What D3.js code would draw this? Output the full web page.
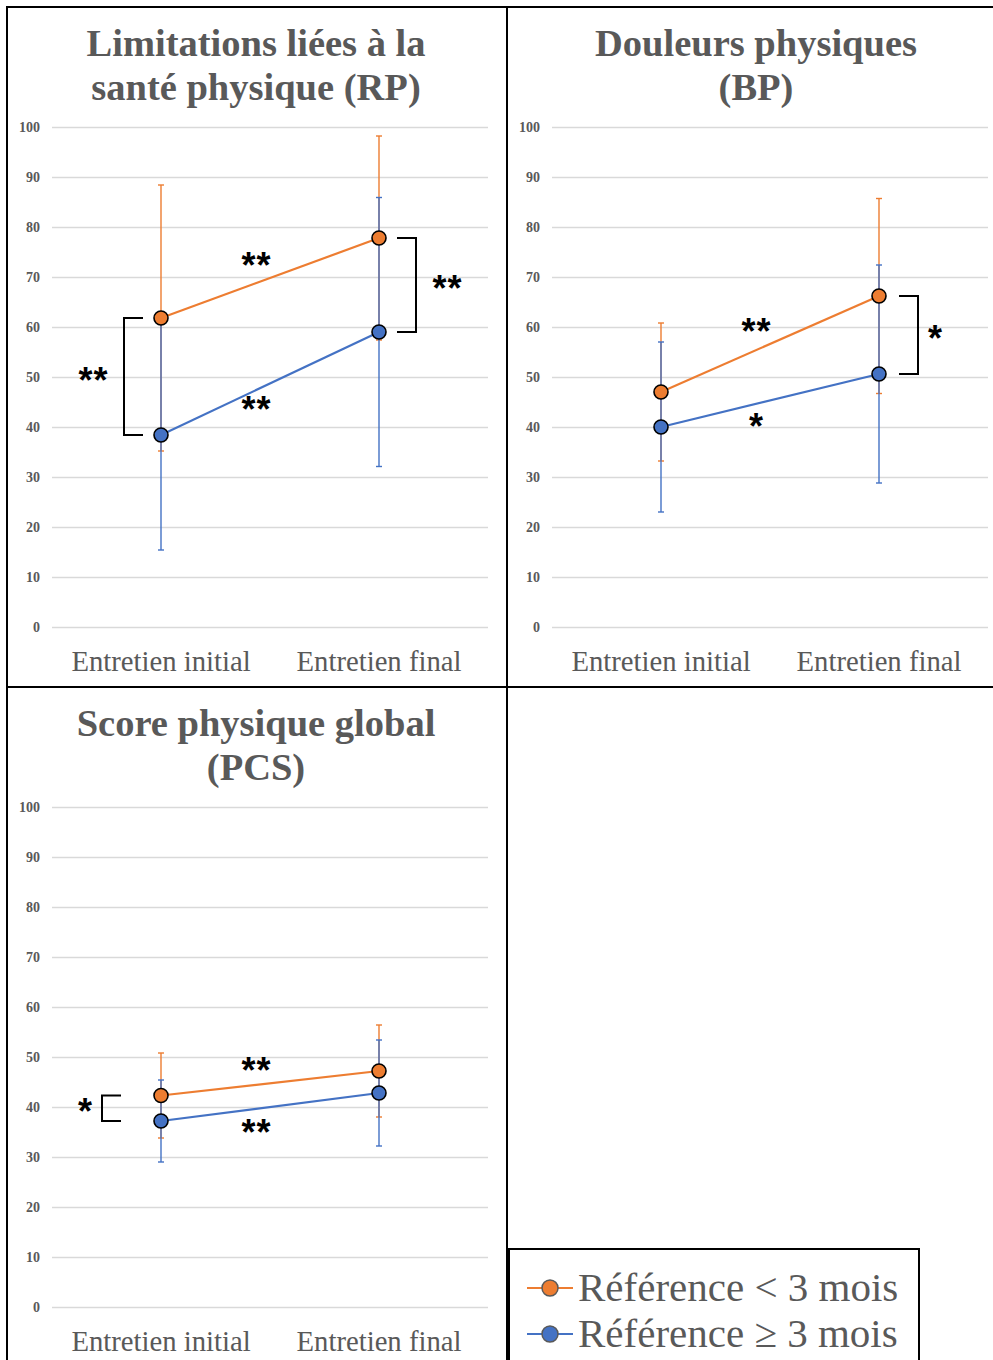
<!DOCTYPE html>
<html>
<head>
<meta charset="utf-8">
<script src="https://cdn.jsdelivr.net/npm/d3@7"></script>
<style>
  body { margin: 0; background: #fff; }
  svg { display: block; }
  .grid line { stroke: #d9d9d9; stroke-width: 1.5; }
  .grid text { font-family: "Liberation Serif", serif; font-weight: bold; font-size: 14px; fill: #595959; }
  .cats text { font-family: "Liberation Serif", serif; font-size: 28.7px; fill: #595959; }
  .title { font-family: "Liberation Serif", serif; font-weight: bold; font-size: 38.5px; fill: #595959; }
  .star { font-family: "Liberation Sans", Arial, sans-serif; font-weight: bold; font-size: 36px; fill: #000; }
  .legendtext { font-family: "Liberation Serif", serif; font-size: 41px; fill: #595959; }
</style>
</head>
<body>
<div id="chart"></div>
<script>
var categories = ["Entretien initial", "Entretien final"]
var yTicks = [0, 10, 20, 30, 40, 50, 60, 70, 80, 90, 100]
var seriesNames = ["Référence < 3 mois", "Référence \u2265 3 mois"]
var seriesColors = ["#ed7d31", "#4472c4"]

// means and standard deviations (initial, final)
var rpShort = [61.8, 77.8], rpShortSd = [26.6, 20.4]
var rpLong  = [38.4, 59.0], rpLongSd  = [23.0, 26.9]
var bpShort = [47.0, 66.2], bpShortSd = [13.8, 19.5]
var bpLong  = [40.0, 50.6], bpLongSd  = [17.0, 21.8]
var pcsShort = [42.3, 47.2], pcsShortSd = [8.5, 9.2]
var pcsLong  = [37.2, 42.8], pcsLongSd  = [8.2, 10.6]

var panels = [
  { title: ["Limitations liées à la", "santé physique (RP)"], x: 7, y: 7, w: 500, h: 680,
    series: [{ v: rpShort, sd: rpShortSd }, { v: rpLong, sd: rpLongSd }],
    change: ["**", "**"],
    brackets: [{ cat: 0, side: -1, off: 37, text: "**" }, { cat: 1, side: 1, off: 37, text: "**" }] },
  { title: ["Douleurs physiques", "(BP)"], x: 507, y: 7, w: 488, h: 680,
    series: [{ v: bpShort, sd: bpShortSd }, { v: bpLong, sd: bpLongSd }],
    change: ["**", "*"],
    brackets: [{ cat: 1, side: 1, off: 39, text: "*" }] },
  { title: ["Score physique global", "(PCS)"], x: 7, y: 687, w: 500, h: 680,
    series: [{ v: pcsShort, sd: pcsShortSd }, { v: pcsLong, sd: pcsLongSd }],
    change: ["**", "**"],
    brackets: [{ cat: 0, side: -1, off: 59, text: "*" }] }
]

var W = 993, H = 1360
var svg = d3.select("#chart").append("svg").attr("width", W).attr("height", H)

function star(g, x, y, text) {
  // asterisks sit high in the em box, shift baseline down
  var t = g.append("text").attr("class", "star")
    .attr("x", x).attr("y", y + 19)
    .attr("text-anchor", "middle")
  text.split("").forEach((c, i, a) =>
    t.append("tspan").attr("x", x + (i - (a.length - 1) / 2) * 15).text(c))
}

function drawPanel(p) { //{{{
  var margin = { left: 45, top: 120 },
      width = 436, height = 500

  svg.append("rect")
    .attr("x", p.x).attr("y", p.y).attr("width", p.w).attr("height", p.h)
    .attr("fill", "none").attr("stroke", "#000").attr("stroke-width", 2)

  var t = svg.append("text").attr("class", "title")
    .attr("x", p.x + 249).attr("y", p.y + 49).attr("text-anchor", "middle")
  p.title.forEach((l, i) => t.append("tspan").attr("x", p.x + 249).attr("dy", i ? 44 : 0).text(l))

  var g = svg.append("g").attr("transform", "translate(" + (p.x + margin.left) + "," + (p.y + margin.top) + ")")

  var x = d3.scaleBand().domain(categories).range([0, width])
  var y = d3.scaleLinear().domain([0, 100]).range([height, 0])
  var cx = i => x(categories[i]) + x.bandwidth() / 2

  g.append("g").attr("class", "grid")
    .call(d3.axisLeft(y).tickValues(yTicks).tickSize(-width).tickPadding(12))
    .call(a => a.select(".domain").remove())

  g.append("g").attr("class", "cats")
    .attr("transform", "translate(0," + height + ")")
    .call(d3.axisBottom(x).tickSize(0))
    .call(a => a.select(".domain").remove())
    .selectAll("text").attr("y", 44).attr("dy", null)

  // error bars
  p.series.forEach((s, si) => {
    var eb = g.append("g").attr("stroke", seriesColors[si]).attr("stroke-width", 1.4)
    s.v.forEach((v, i) => {
      var lo = y(v - s.sd[i]), hi = y(v + s.sd[i])
      eb.append("line").attr("x1", cx(i)).attr("x2", cx(i)).attr("y1", lo).attr("y2", hi)
      eb.append("line").attr("x1", cx(i) - 3).attr("x2", cx(i) + 3).attr("y1", lo).attr("y2", lo)
      eb.append("line").attr("x1", cx(i) - 3).attr("x2", cx(i) + 3).attr("y1", hi).attr("y2", hi)
    })
  })

  var line = d3.line().x((d, i) => cx(i)).y(d => y(d))
  p.series.forEach((s, si) => {
    g.append("path").datum(s.v)
      .attr("fill", "none").attr("stroke", seriesColors[si]).attr("stroke-width", 2.2)
      .attr("d", line)
  })
  p.series.forEach((s, si) => {
    g.selectAll(null).data(s.v).enter().append("circle")
      .attr("cx", (d, i) => cx(i)).attr("cy", d => y(d)).attr("r", 7)
      .attr("fill", seriesColors[si]).attr("stroke", "#000").attr("stroke-width", 1.6)
  })

  // significance of change over time
  p.series.forEach((s, si) => {
    var mx = (cx(0) + cx(1)) / 2 - 14,
        my = (y(s.v[0]) + y(s.v[1])) / 2 + (si == 0 ? -19 : 19)
    star(g, mx, my, p.change[si])
  })

  // significance between groups
  p.brackets.forEach(b => {
    var bx = cx(b.cat) + b.side * b.off,
        y0 = y(p.series[0].v[b.cat]), y1 = y(p.series[1].v[b.cat]),
        tx = bx - b.side * 19
    g.append("path")
      .attr("d", "M" + tx + "," + y0 + "H" + bx + "V" + y1 + "H" + tx)
      .attr("fill", "none").attr("stroke", "#000").attr("stroke-width", 2)
    star(g, bx + b.side * (3 + 14 * b.text.length), (y0 + y1) / 2 - 3, b.text)
  })
} //}}}

panels.forEach(drawPanel)

// legend
var lg = svg.append("g")
lg.append("rect").attr("x", 509).attr("y", 1249).attr("width", 410).attr("height", 120)
  .attr("fill", "#fff").attr("stroke", "#000").attr("stroke-width", 2)
seriesNames.forEach((n, i) => {
  var ly = 1288 + i * 46
  lg.append("line").attr("x1", 527).attr("x2", 573).attr("y1", ly).attr("y2", ly)
    .attr("stroke", seriesColors[i]).attr("stroke-width", 2)
  lg.append("circle").attr("cx", 550).attr("cy", ly).attr("r", 8)
    .attr("fill", seriesColors[i]).attr("stroke", "#595959").attr("stroke-width", 1.5)
  lg.append("text").attr("class", "legendtext").attr("x", 578).attr("y", ly + 13).text(n)
})
</script>
</body>
</html>
